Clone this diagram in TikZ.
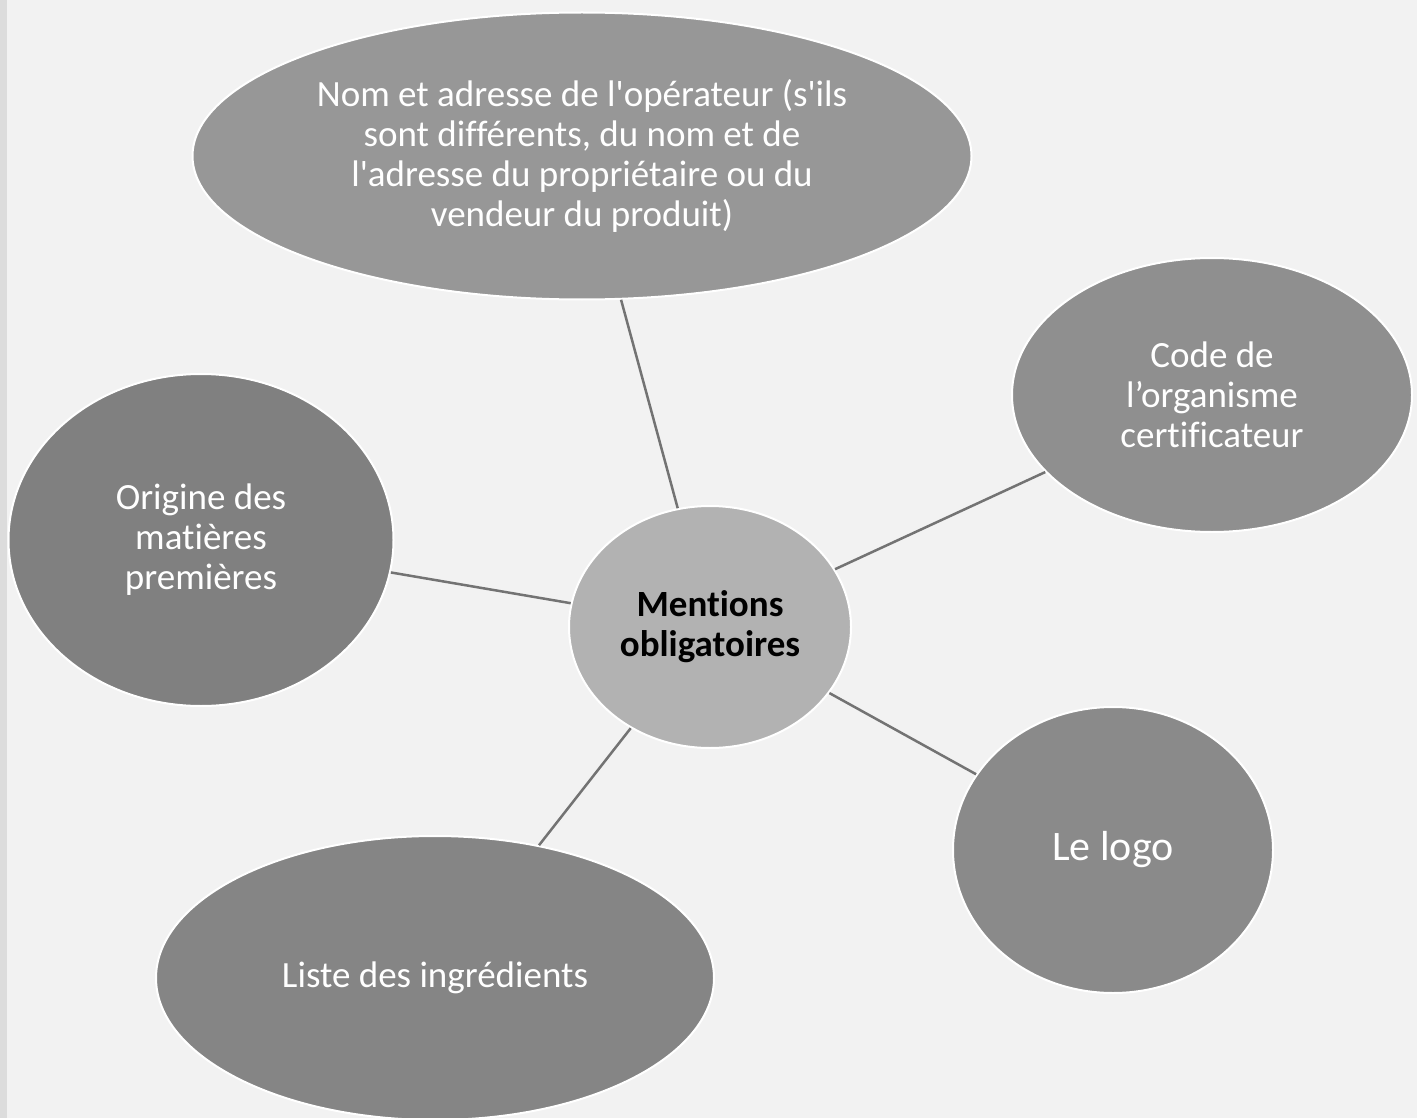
\documentclass[tikz,border=0pt]{standalone}
\usepackage{fontspec}
\setmainfont{Carlito}[Ligatures={TeX,NoCommon}]
\usetikzlibrary{shapes.geometric}
\definecolor{bgcol}{HTML}{F2F2F2}
\definecolor{stripcol}{HTML}{DCDCDC}
\definecolor{ctop}{HTML}{979797}
\definecolor{ccode}{HTML}{8F8F8F}
\definecolor{clogo}{HTML}{8A8A8A}
\definecolor{cliste}{HTML}{858585}
\definecolor{corig}{HTML}{808080}
\definecolor{ccenter}{HTML}{B2B2B2}
\definecolor{linecol}{HTML}{737373}
\begin{document}
\begin{tikzpicture}[x=1pt,y=-1pt,
  bubble/.style={ellipse, draw=white, line width=2pt, text=white, align=center,
    inner sep=0pt, font=\fontsize{37}{40}\selectfont},
  spoke/.style={draw=linecol, line width=2.5pt}]
\useasboundingbox (0,0) rectangle (1417,1118);
\fill[bgcol] (0,0) rectangle (1417,1118);
\fill[stripcol] (0,0) rectangle (7,1118);

\node[bubble, fill=ctop, minimum width=779pt, minimum height=287pt] (top) at (582,156)
  {Nom et adresse de l\textquotesingle opérateur (s\textquotesingle ils\\sont différents, du nom et de\\l\textquotesingle adresse du propriétaire ou du\\vendeur du produit)};
\node[bubble, fill=ccode, minimum width=400pt, minimum height=274pt] (code) at (1212,395)
  {Code de\\l’organisme\\certificateur};
\node[bubble, fill=corig, minimum width=385pt, minimum height=332pt] (orig) at (201,540)
  {Origine des\\matières\\premières};
\node[bubble, fill=clogo, minimum width=320pt, minimum height=286pt,
  font=\fontsize{42}{46}\selectfont] (logo) at (1113,850) {Le logo};
\node[bubble, fill=cliste, minimum width=558pt, minimum height=284pt] (liste) at (435,978)
  {Liste des ingrédients};
\node[bubble, fill=ccenter, text=black, minimum width=282pt, minimum height=242pt,
  font=\fontsize{37}{40}\selectfont\bfseries] (center) at (710,627)
  {Mentions\\obligatoires};

\draw[spoke] (center) -- (top);
\draw[spoke] (center) -- (code);
\draw[spoke] (center) -- (logo);
\draw[spoke] (center) -- (liste);
\draw[spoke] (center) -- (orig);
\end{tikzpicture}
\end{document}
